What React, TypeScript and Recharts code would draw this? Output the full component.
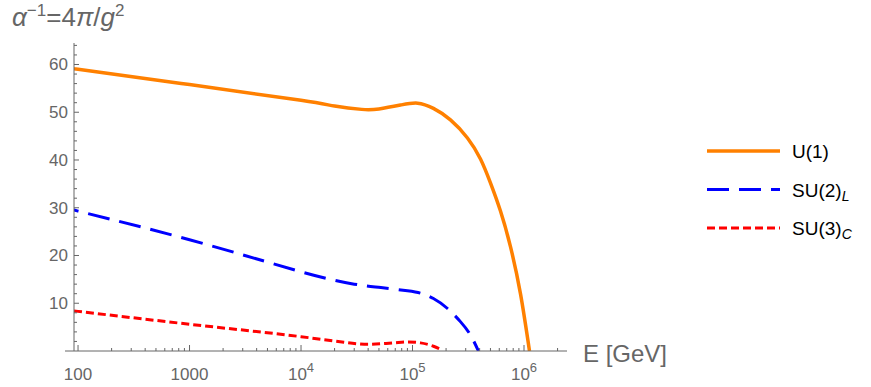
import React from 'react';
import { LineChart, Line, XAxis, YAxis } from 'recharts';

// Energies in GeV
const u1Energy = [92, 100, 1000, 1e4, 2e4, 3.5e4, 5e4, 7.8e4, 1.11e5, 1.54e5, 2.19e5, 3.11e5, 4.07e5, 5e5, 6.15e5, 7.57e5, 9.31e5, 1.12e6];
const u1Value = [59.1, 59.0, 55.8, 52.5, 51.3, 50.6, 50.7, 51.5, 51.9, 50.8, 48.4, 44.6, 40.2, 35.2, 29.3, 21.8, 11.9, 0];

const su2Energy = [92, 100, 1000, 1e4, 3e4, 5.2e4, 9e4, 1.18e5, 1.54e5, 2.06e5, 2.7e5, 3.3e5, 3.9e5];
const su2Value = [29.6, 29.3, 23.3, 16.6, 14.0, 13.3, 12.6, 12.1, 11.0, 8.9, 6.1, 3.4, 0];

const su3Energy = [92, 100, 1000, 1e4, 2e4, 4e4, 6.7e4, 9e4, 1.18e5, 1.54e5, 1.8e5];
const su3Value = [8.4, 8.3, 5.6, 3.0, 2.1, 1.4, 1.7, 1.9, 1.7, 1.0, 0.35];

const xMajorTicks = [100, 1000, 1e4, 1e5, 1e6];
const xMinorTicks = [200, 300, 400, 500, 600, 700, 800, 900, 2000, 3000, 4000, 5000, 6000, 7000, 8000, 9000,
  2e4, 3e4, 4e4, 5e4, 6e4, 7e4, 8e4, 9e4, 2e5, 3e5, 4e5, 5e5, 6e5, 7e5, 8e5, 9e5, 2e6];
const yMajorTicks = [10, 20, 30, 40, 50, 60];
const yMinorTicks = [2, 4, 6, 8, 12, 14, 16, 18, 22, 24, 26, 28, 32, 34, 36, 38, 42, 44, 46, 48, 52, 54, 56, 58, 62, 64];

const toRows = (xs: number[], ys: number[]) => xs.map((e, i) => ({ e, v: ys[i] }));
const u1Data = toRows(u1Energy, u1Value);
const su2Data = toRows(su2Energy, su2Value);
const su3Data = toRows(su3Energy, su3Value);

const FONT = '"Liberation Sans", Arial, sans-serif';
const AXIS = '#666666';
const ORANGE = '#ff8000';

const XTick = (props: any) => {
  const { x, y, payload } = props;
  const v = payload.value;
  const major = xMajorTicks.includes(v);
  const exp = Math.round(Math.log10(v));
  return (
    <g>
      <line x1={x} x2={x} y1={y} y2={y - (major ? 6 : 3)} stroke={AXIS} strokeWidth={1} />
      {major && (
        <text x={x} y={y + 29} textAnchor="middle" fill={AXIS} fontSize={17} fontFamily={FONT}>
          {exp <= 3 ? String(v) : (
            <>
              <tspan>10</tspan>
              <tspan dy={-8} fontSize={13}>{exp}</tspan>
            </>
          )}
        </text>
      )}
    </g>
  );
};

const YTick = (props: any) => {
  const { x, y, payload } = props;
  const major = yMajorTicks.includes(payload.value);
  return (
    <g>
      <line x1={x} x2={x + (major ? 5 : 3)} y1={y} y2={y} stroke={AXIS} strokeWidth={1} />
      {major && (
        <text x={x - 6} y={y + 6} textAnchor="end" fill={AXIS} fontSize={17} fontFamily={FONT}>
          {payload.value}
        </text>
      )}
    </g>
  );
};

const legendItems = [
  { name: 'U(1)', sub: '', color: ORANGE, dash: undefined, width: 3.5 },
  { name: 'SU(2)', sub: 'L', color: '#0000ff', dash: '22 10', width: 3 },
  { name: 'SU(3)', sub: 'C', color: '#ff0000', dash: '8 4', width: 3 },
];

const LegendBox = () => (
  <svg width={171} height={120} style={{ position: 'absolute', left: 700, top: 130 }}>
    {legendItems.map((it, i) => {
      const cy = 21 + i * 38.5;
      return (
        <g key={it.name}>
          <line x1={7} x2={80} y1={cy} y2={cy} stroke={it.color} strokeWidth={it.width} strokeDasharray={it.dash} />
          <text x={92} y={cy + 7} fontSize={19} fontFamily={FONT} fill="#000">
            {it.name}
            {it.sub && <tspan dy={4} fontSize={14} fontStyle="italic">{it.sub}</tspan>}
          </text>
        </g>
      );
    })}
  </svg>
);

const AxisTitles = (props: any) => {
  const vb = props.viewBox || { x: 74, y: 351 };
  return (
    <g>
      {/* the x axis runs a little past the y axis on the left */}
      <line x1={vb.x - 9} x2={vb.x} y1={vb.y} y2={vb.y} stroke={AXIS} strokeWidth={1} />
      <text x={12} y={26} fontSize={26} fontFamily={FONT} fill={AXIS}>
        <tspan fontStyle="italic">α</tspan>
        <tspan dy={-10} fontSize={17}>−1</tspan>
        <tspan dy={10}>=4</tspan>
        <tspan fontStyle="italic">π</tspan>
        <tspan>/</tspan>
        <tspan fontStyle="italic">g</tspan>
        <tspan dy={-10} fontSize={17}>2</tspan>
      </text>
      <text x={583} y={362} fontSize={24} fontFamily={FONT} fill={AXIS}>E [GeV]</text>
    </g>
  );
};

export default function App() {
  return (
    <div style={{ position: 'absolute', left: 0, top: 0, width: 871, height: 387, background: '#fff' }}>
      <LineChart width={871} height={387} margin={{ top: 43, right: 304, bottom: 6, left: 64 }}>
        <XAxis
          dataKey="e"
          type="number"
          scale="log"
          domain={[92, 2.43e6]}
          allowDataOverflow
          ticks={[...xMajorTicks, ...xMinorTicks]}
          interval={0}
          height={30}
          tickSize={0}
          tickMargin={0}
          tickLine={false}
          axisLine={{ stroke: AXIS, strokeWidth: 1 }}
          tick={<XTick />}
          label={{ content: (p: any) => <AxisTitles {...p} /> }}
        />
        <YAxis
          type="number"
          domain={[0, 64.5]}
          allowDataOverflow
          ticks={[...yMajorTicks, ...yMinorTicks]}
          interval={0}
          width={10}
          tickSize={0}
          tickMargin={0}
          tickLine={false}
          axisLine={{ stroke: AXIS, strokeWidth: 1 }}
          tick={<YTick />}
        />
        <Line data={u1Data} dataKey="v" name="U(1)" type="natural" stroke={ORANGE} strokeWidth={3.5} dot={false} isAnimationActive={false} />
        <Line data={su2Data} dataKey="v" name="SU(2)L" type="natural" stroke="#0000ff" strokeWidth={3} strokeDasharray="22 10" dot={false} isAnimationActive={false} />
        <Line data={su3Data} dataKey="v" name="SU(3)C" type="monotone" stroke="#ff0000" strokeWidth={3} strokeDasharray="8 4" dot={false} isAnimationActive={false} />
      </LineChart>
      <LegendBox />
    </div>
  );
}
